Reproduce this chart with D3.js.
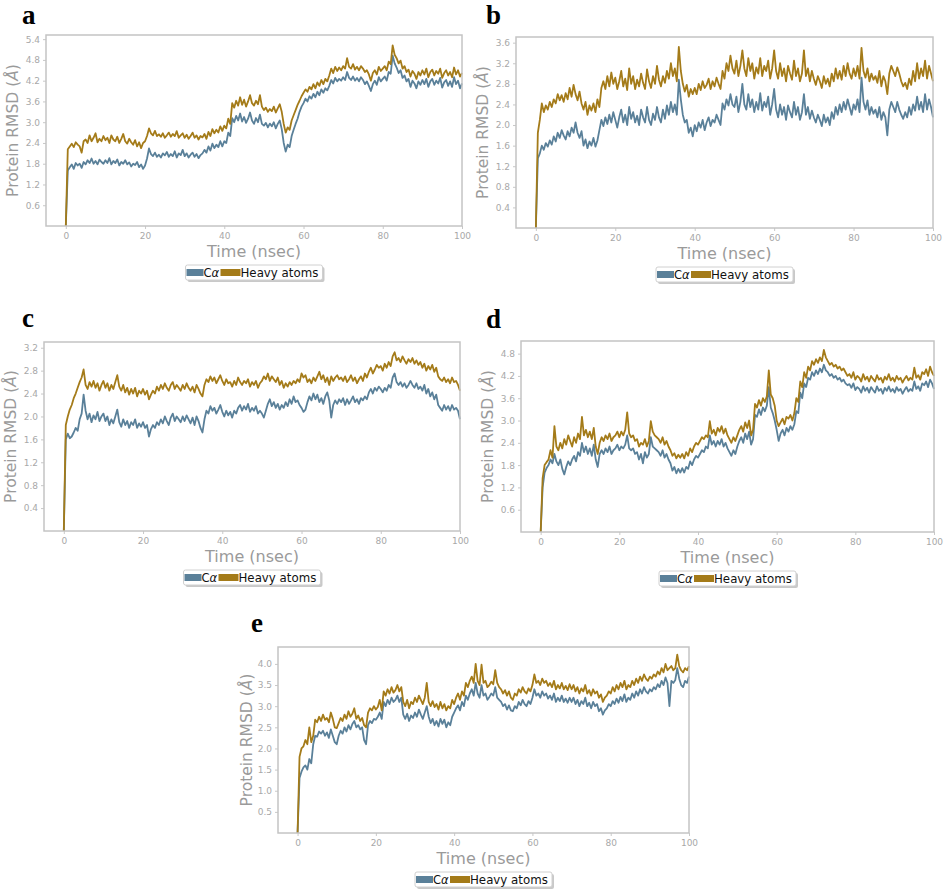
<!DOCTYPE html>
<html>
<head>
<meta charset="utf-8">
<script src="https://cdn.jsdelivr.net/npm/d3@7/dist/d3.min.js"></script>
<style>
  html, body { margin: 0; padding: 0; background: #fff; }
  svg { display: block; }
</style>
</head>
<body>
<svg id="chart" width="945" height="891"></svg>
<script>
// ---------------- DATA ----------------
// time axis: 0 .. 100 ns every 0.5 ns (201 samples)
const timeNs = d3.range(0, 100.001, 0.5);
const xTicks = [0, 20, 40, 60, 80, 100];
const seriesNames = ["Cα", "Heavy atoms"];

// Panel a
const aCa = [
  0, 1.6, 1.7, 1.78, 1.65, 1.82, 1.75, 1.8, 1.68, 1.85, 1.78, 1.9, 1.82, 1.95, 1.8, 1.88, 1.78, 1.92, 1.85, 1.8,
  1.9, 1.82, 1.96, 1.78, 1.88, 1.82, 1.92, 1.75, 1.85, 1.8, 1.9, 1.78, 1.84, 1.72, 1.8, 1.76, 1.85, 1.7, 1.78, 1.65,
  1.75, 1.95, 2.24, 2.08, 2.02, 2.12, 2.0, 2.06, 1.98, 2.1, 2.04, 2.14, 2.0, 2.08, 2.02, 2.16, 1.98, 2.1, 2.05, 2.2,
  2.02, 2.1, 1.98, 2.06, 2.12, 2.0, 2.08, 1.96, 2.05, 2.1, 2.2, 2.12, 2.3, 2.18, 2.38, 2.25, 2.35, 2.28, 2.45, 2.3,
  2.45, 2.4, 2.7, 2.6, 3.12, 3.0, 3.18, 3.05, 3.25, 3.02, 3.15, 2.98, 3.1, 3.28, 3.05, 2.95, 3.12, 3.0, 3.22, 2.95,
  2.9, 2.98, 2.85, 2.96, 2.88, 3.0, 2.82, 2.95, 3.05, 2.8, 2.4, 2.15, 2.35, 2.28, 2.6, 2.78, 2.95, 3.1, 3.3, 3.45,
  3.55, 3.68, 3.6, 3.75, 3.68, 3.82, 3.72, 3.88, 3.78, 3.95, 3.85, 3.98, 3.92, 4.05, 4.22, 4.12, 4.28, 4.18, 4.25, 4.2,
  4.3, 4.22, 4.45, 4.28, 4.22, 4.32, 4.2, 4.28, 4.18, 4.3, 4.22, 4.1, 4.18, 4.05, 3.9, 4.1, 4.2, 4.08, 4.3, 4.18,
  4.25, 4.32, 4.2, 4.45, 4.4, 4.92, 4.7, 4.58, 4.42, 4.5, 4.28, 4.35, 4.18, 4.25, 4.02, 4.2, 4.12, 3.98, 4.18, 4.08,
  4.22, 4.1, 4.25, 4.02, 4.18, 4.25, 4.08, 4.2, 4.12, 4.28, 4.0, 4.15, 4.22, 4.05, 4.18, 4.02, 4.3, 4.1, 4.2, 3.98,
  4.12
];
const aHeavy = [
  0, 2.22, 2.3, 2.38, 2.28, 2.42, 2.35, 2.3, 2.12, 2.45, 2.5, 2.4, 2.62, 2.45, 2.55, 2.68, 2.42, 2.52, 2.45, 2.6,
  2.48, 2.55, 2.4, 2.62, 2.5, 2.45, 2.58, 2.4, 2.52, 2.66, 2.45, 2.38, 2.52, 2.42, 2.35, 2.48, 2.3, 2.42, 2.25, 2.4,
  2.45, 2.6, 2.82, 2.68, 2.62, 2.75, 2.6, 2.65, 2.58, 2.68, 2.55, 2.62, 2.7, 2.58, 2.66, 2.6, 2.74, 2.55, 2.62, 2.68,
  2.55, 2.64, 2.52, 2.6, 2.7, 2.55, 2.62, 2.5, 2.6, 2.56, 2.66, 2.52, 2.72, 2.6, 2.8, 2.68, 2.78, 2.7, 2.88, 2.75,
  2.9, 2.82, 3.1, 2.95, 3.55, 3.42, 3.62, 3.48, 3.72, 3.5, 3.65, 3.45, 3.6, 3.78, 3.55, 3.48, 3.62, 3.52, 3.78, 3.45,
  3.35, 3.42, 3.3, 3.38, 3.32, 3.45, 3.28, 3.4, 3.52, 3.3, 2.95, 2.7, 2.85, 2.78, 3.05, 3.2, 3.35, 3.5, 3.62, 3.75,
  3.85, 3.95, 3.88, 4.02, 3.95, 4.1, 3.98, 4.15, 4.05, 4.22, 4.1, 4.25, 4.18, 4.35, 4.55, 4.42, 4.6, 4.48, 4.58, 4.5,
  4.62, 4.55, 4.85, 4.6, 4.55, 4.68, 4.52, 4.6, 4.5, 4.62, 4.55, 4.45, 4.5, 4.38, 4.2, 4.42, 4.5, 4.38, 4.6, 4.48,
  4.55, 4.62, 4.5, 4.75, 4.68, 5.22, 4.95, 4.85, 4.7, 4.78, 4.55, 4.62, 4.45, 4.52, 4.32, 4.48, 4.4, 4.25, 4.45, 4.35,
  4.5, 4.38, 4.55, 4.3, 4.45, 4.52, 4.35, 4.48, 4.4, 4.55, 4.28, 4.42, 4.5, 4.35, 4.45, 4.3, 4.58, 4.38, 4.5, 4.32,
  4.42
];

// Panel b
const bCa = [
  0, 1.35, 1.45, 1.6, 1.52, 1.65, 1.58, 1.7, 1.62, 1.78, 1.68, 1.85, 1.75, 1.9, 1.8, 1.72, 1.88, 1.78, 1.95, 1.85,
  2.05, 1.85, 1.75, 1.88, 1.6, 1.72, 1.55, 1.68, 1.6, 1.75, 1.58, 1.7, 1.9, 2.1, 1.98, 2.15, 2.02, 2.2, 2.05, 2.25,
  2.1, 1.95, 2.15, 2.3, 2.05, 2.2, 2.0, 2.35, 2.12, 2.25, 2.05, 2.18, 2.0, 2.3, 2.15, 2.05, 2.35, 2.1, 2.0, 2.22,
  2.1, 2.35, 2.15, 2.05, 2.3, 2.12, 2.38, 2.2, 2.45, 2.25, 2.4, 2.2, 2.88, 2.5, 2.2, 2.05, 2.1, 1.85, 1.95, 1.78,
  2.0, 1.88, 2.05, 1.95, 2.1, 1.9, 2.05, 2.15, 1.98, 2.1, 2.05, 2.2, 2.1, 2.0, 2.42, 2.3, 2.5, 2.38, 2.6, 2.4,
  2.35, 2.55, 2.25, 2.45, 2.8, 2.4, 2.3, 2.6, 2.35, 2.5, 2.25, 2.45, 2.3, 2.62, 2.28, 2.45, 2.35, 2.55, 2.2, 2.4,
  2.7, 2.3, 2.15, 2.4, 2.2, 2.35, 2.1, 2.38, 2.25, 2.15, 2.45, 2.2, 2.35, 2.1, 2.25, 2.6, 2.2, 2.35, 2.12, 2.28,
  2.15, 2.05, 2.2, 2.1, 1.98, 2.2, 2.05, 2.15, 2.0, 2.25, 2.12, 2.35, 2.2, 2.4, 2.25, 2.45, 2.3, 2.5, 2.35, 2.2,
  2.4, 2.3, 2.5, 2.25, 2.92, 2.45, 2.3, 2.48, 2.2, 2.35, 2.22, 2.3, 2.15, 2.35, 2.1, 2.25, 2.15, 1.8, 2.3, 2.45,
  2.35, 2.25, 2.45, 2.3, 2.2, 2.12, 2.25, 2.15, 2.35, 2.2, 2.4, 2.28, 2.55, 2.3, 2.45, 2.25, 2.6, 2.3, 2.5, 2.35,
  2.15
];
const bHeavy = [
  0, 1.85, 2.1, 2.42, 2.25, 2.38, 2.3, 2.45, 2.35, 2.5, 2.42, 2.6, 2.48, 2.58, 2.45, 2.62, 2.5, 2.72, 2.55, 2.78,
  2.6, 2.48, 2.65, 2.42, 2.3, 2.45, 2.2, 2.38, 2.28, 2.42, 2.25, 2.5, 2.35, 2.72, 2.85, 2.7, 2.95, 2.75, 3.02, 2.8,
  2.92, 2.7, 2.85, 3.05, 2.75, 2.9, 2.68, 3.1, 2.8, 2.95, 2.7, 2.88, 2.75, 3.0, 2.82, 2.7, 3.08, 2.85, 2.72, 2.95,
  2.8, 3.15, 2.88, 2.75, 2.95, 2.82, 3.05, 2.9, 3.2, 2.95, 3.1, 2.85, 3.52, 3.05, 2.8, 2.65, 2.78, 2.55, 2.7, 2.6,
  2.72, 2.6, 2.8, 2.68, 2.85, 2.72, 2.78, 2.9, 2.7, 2.85, 2.75, 2.92, 2.8, 2.7, 3.05, 2.9, 3.2, 3.05, 3.35, 3.1,
  3.0, 3.25, 2.95, 3.15, 3.45, 3.1, 2.95, 3.3, 3.05, 3.2, 2.9, 3.12, 3.0, 3.3, 2.95, 3.15, 3.05, 3.25, 2.9, 3.1,
  3.45, 3.05, 2.9, 3.2, 2.95, 3.1, 2.85, 3.15, 3.0, 2.88, 3.25, 2.95, 3.1, 2.85, 3.0, 3.45, 2.95, 3.1, 2.85, 3.05,
  2.9, 2.78, 2.95, 2.85, 2.72, 2.95, 2.8, 2.9, 2.75, 3.0, 2.85, 3.1, 2.9, 3.05, 2.88, 3.15, 2.95, 3.2, 3.0, 2.9,
  3.1, 2.95, 3.15, 2.9, 3.5, 3.05, 2.92, 3.1, 2.85, 3.0, 2.88, 2.95, 2.82, 3.05, 2.75, 2.95, 2.85, 2.6, 3.0, 3.15,
  3.05, 2.95, 3.12, 3.0, 2.85, 2.75, 2.82, 2.7, 2.9, 2.78, 3.05, 2.85, 3.2, 2.9, 3.1, 2.95, 3.25, 2.9, 3.15, 3.0,
  2.85
];

// Panel c
const cCa = [
  0, 1.6, 1.7, 1.62, 1.65, 1.72, 1.8, 1.75, 1.95, 2.05, 2.38, 2.1, 1.95, 2.05, 1.9, 2.02, 1.95, 2.08, 1.92, 2.0,
  2.05, 1.92, 2.0, 1.85, 1.95, 1.88, 2.0, 2.12, 1.9, 1.82, 1.95, 1.85, 1.92, 1.8, 1.9, 1.85, 1.95, 1.8, 1.88, 1.82,
  1.9, 1.8, 1.85, 1.65, 1.78, 1.85, 1.8, 1.9, 1.85, 1.95, 1.88, 2.0, 1.92, 1.85, 1.98, 2.05, 1.92, 2.0, 1.95, 1.9,
  2.0, 1.92, 2.02, 1.95, 1.88, 1.98, 1.85, 2.0, 1.92, 1.8, 1.72, 1.95, 2.1, 2.05, 2.18, 2.1, 2.15, 2.05, 2.12, 2.2,
  2.08, 2.0, 2.1, 2.02, 2.08, 1.98, 2.1, 2.05, 2.15, 2.2, 2.1, 2.18, 2.12, 2.22, 2.08, 2.15, 2.1, 2.18, 2.05, 2.1,
  2.05, 1.98, 2.1, 2.22, 2.3, 2.18, 2.25, 2.15, 2.22, 2.12, 2.2, 2.15, 2.25, 2.18, 2.3, 2.22, 2.35, 2.25, 2.28, 2.2,
  2.15, 2.08, 2.12, 2.25, 2.35, 2.28, 2.4, 2.3, 2.38, 2.25, 2.32, 2.22, 2.35, 2.42, 2.28, 1.98, 2.2, 2.28, 2.22, 2.3,
  2.25, 2.32, 2.2, 2.3, 2.22, 2.28, 2.35, 2.25, 2.3, 2.22, 2.32, 2.28, 2.35, 2.3, 2.42, 2.48, 2.4, 2.5, 2.45, 2.52,
  2.48, 2.42, 2.5, 2.45, 2.55, 2.5, 2.68, 2.75, 2.6, 2.55, 2.6, 2.52, 2.58, 2.5, 2.55, 2.62, 2.55, 2.5, 2.58, 2.48,
  2.52, 2.45, 2.55, 2.4, 2.48, 2.35, 2.42, 2.3, 2.38, 2.2, 2.15, 2.1, 2.2, 2.12, 2.18, 2.1, 2.2, 2.12, 2.15, 2.1,
  1.95
];
const cHeavy = [
  0, 1.85, 2.0, 2.12, 2.2, 2.32, 2.4, 2.5, 2.6, 2.68, 2.82, 2.55, 2.48, 2.6, 2.52, 2.62, 2.5, 2.58, 2.45, 2.55,
  2.62, 2.5, 2.58, 2.45, 2.55, 2.48, 2.6, 2.72, 2.52, 2.45, 2.55, 2.42, 2.5, 2.38, 2.48, 2.4, 2.5, 2.35, 2.45, 2.4,
  2.48, 2.38, 2.45, 2.3, 2.38, 2.45, 2.4, 2.52, 2.45, 2.55, 2.48, 2.58, 2.5, 2.45, 2.55, 2.6, 2.48, 2.55, 2.5, 2.45,
  2.55, 2.48, 2.58, 2.5, 2.45, 2.52, 2.42, 2.55, 2.48, 2.4, 2.35, 2.55, 2.65, 2.6, 2.7, 2.62, 2.68, 2.58, 2.65, 2.72,
  2.62, 2.55, 2.65, 2.58, 2.6, 2.52, 2.62, 2.55, 2.68, 2.6, 2.55, 2.62, 2.58, 2.65, 2.52, 2.6, 2.55, 2.62, 2.5, 2.58,
  2.62, 2.7, 2.65, 2.75, 2.62, 2.7, 2.65, 2.6, 2.68, 2.55, 2.62, 2.5, 2.58, 2.52, 2.6, 2.55, 2.62, 2.58, 2.65, 2.6,
  2.75, 2.68, 2.72, 2.6, 2.65, 2.58, 2.68, 2.62, 2.7, 2.78, 2.65, 2.72, 2.6, 2.68, 2.55, 2.7, 2.62, 2.68, 2.72, 2.65,
  2.68, 2.62, 2.7, 2.6, 2.65, 2.72, 2.62, 2.68, 2.58, 2.65, 2.7, 2.62, 2.75, 2.68, 2.78, 2.85, 2.75, 2.82, 2.9, 2.85,
  2.88, 2.8, 2.92, 2.85, 2.95, 2.88, 3.05, 3.12, 2.98, 3.02, 2.95, 3.05, 2.98, 2.92, 3.0, 2.95, 3.02, 2.92, 2.98, 2.9,
  2.95, 2.85, 2.92, 2.8, 2.88, 2.82, 2.9, 2.78, 2.85, 2.7, 2.65, 2.62, 2.68, 2.6, 2.65, 2.58, 2.68, 2.6, 2.62, 2.55,
  2.45
];

// Panel d
const dCa = [
  0, 1.2, 1.6, 1.72, 1.8, 1.95, 1.85, 2.1, 1.9, 1.8, 1.95, 1.7, 1.55, 1.75, 1.9, 1.8, 1.95, 2.05, 1.9, 2.15,
  2.05, 2.4, 2.15, 2.3, 2.1, 2.25, 2.05, 2.35, 1.95, 1.75, 2.1, 2.2, 2.1, 2.25, 2.15, 2.3, 2.1, 2.2, 2.25, 2.35,
  2.2, 2.3, 2.25, 2.35, 2.6, 2.25, 2.2, 2.25, 2.1, 2.15, 1.95, 2.1, 1.85, 2.15, 2.0, 2.1, 2.55, 2.3, 2.25, 2.2,
  2.15, 2.05, 2.2, 2.0, 2.1, 1.95, 1.85, 1.65, 1.75, 1.58, 1.7, 1.6, 1.72, 1.6, 1.75, 1.7, 1.9, 1.8, 1.95, 2.05,
  2.0, 2.1, 2.2, 2.15, 2.3, 2.25, 2.6, 2.35, 2.45, 2.3, 2.45, 2.35, 2.5, 2.3, 2.4, 2.25, 2.15, 2.05, 2.2, 2.1,
  2.3, 2.45, 2.55, 2.4, 2.65, 2.5, 2.7, 2.35, 2.5, 3.15, 3.1, 3.3, 3.15, 3.35, 3.25, 3.4, 3.9, 3.35, 3.2, 3.0,
  2.75, 2.45, 2.65, 2.75, 2.6, 2.8, 2.7, 2.85, 2.75, 2.9, 3.25, 3.2, 3.75, 3.6, 4.0, 3.9, 4.15, 4.1, 4.3, 4.2,
  4.35, 4.25, 4.4, 4.3, 4.5, 4.35, 4.3, 4.2, 4.25, 4.15, 4.2, 4.1, 4.15, 4.05, 4.1, 4.0, 3.95, 3.98, 3.88, 4.0,
  3.82, 3.9, 3.85, 3.75, 3.92, 3.8, 3.88, 3.75, 3.9, 3.82, 3.75, 3.92, 3.8, 3.85, 3.72, 3.88, 3.8, 3.92, 3.78, 3.85,
  3.75, 3.9, 3.8, 3.85, 3.72, 3.82, 3.9, 3.78, 3.85, 3.8, 4.05, 3.85, 3.92, 3.8, 4.0, 3.95, 4.05, 3.9, 4.1, 4.0,
  3.85
];
const dHeavy = [
  0, 1.45, 1.8, 1.88, 1.95, 2.2, 2.0, 2.85, 2.3, 2.2, 2.4, 2.25, 2.5, 2.35, 2.6, 2.45, 2.3, 2.55, 2.4, 2.65,
  2.5, 3.1, 2.6, 2.75, 2.55, 2.7, 2.5, 2.8, 2.3, 2.1, 2.4, 2.55, 2.45, 2.6, 2.5, 2.65, 2.45, 2.55, 2.6, 2.7,
  2.55, 2.7, 2.6, 2.75, 3.22, 2.65, 2.55, 2.6, 2.45, 2.5, 2.3, 2.4, 2.35, 2.5, 2.3, 2.45, 2.98, 2.7, 2.6, 2.55,
  2.5, 2.4, 2.55, 2.35, 2.45, 2.3, 2.2, 2.05, 2.12, 1.98, 2.08, 2.0, 2.1, 1.98, 2.15, 2.05, 2.25, 2.15, 2.3, 2.4,
  2.35, 2.45, 2.55, 2.5, 2.6, 2.55, 2.98, 2.65, 2.75, 2.6, 2.8, 2.7, 2.85, 2.65, 2.78, 2.6, 2.5, 2.4, 2.55, 2.45,
  2.6, 2.75, 2.85, 2.7, 2.95, 2.8, 3.0, 2.6, 2.75, 3.45, 3.35, 3.55, 3.4, 3.6, 3.5, 3.65, 4.35, 3.7, 3.6, 3.4,
  3.0, 2.85, 2.95, 3.05, 2.9, 3.1, 3.05, 3.15, 3.0, 3.2, 3.6, 3.5, 4.05, 3.9, 4.3, 4.15, 4.45, 4.35, 4.6, 4.5,
  4.65, 4.55, 4.7, 4.6, 4.9, 4.7, 4.6, 4.5, 4.55, 4.45, 4.5, 4.4, 4.45, 4.35, 4.4, 4.3, 4.2, 4.25, 4.15, 4.3,
  4.1, 4.2, 4.15, 4.05, 4.25, 4.1, 4.18, 4.05, 4.2, 4.12, 4.05, 4.22, 4.1, 4.15, 4.02, 4.18, 4.1, 4.25, 4.08, 4.15,
  4.05, 4.2, 4.1, 4.15, 4.02, 4.12, 4.2, 4.08, 4.15, 4.1, 4.42, 4.15, 4.22, 4.1, 4.3, 4.25, 4.38, 4.2, 4.45, 4.3,
  4.2
];

// Panel e
const eCa = [
  0, 1.3, 1.45, 1.55, 1.6, 1.5, 1.75, 1.65, 2.1, 2.3, 2.28, 2.4, 2.35, 2.42, 2.3, 2.38, 2.25, 2.45, 2.3, 2.15,
  2.1, 2.3, 2.42, 2.35, 2.5, 2.4, 2.55, 2.45, 2.58, 2.65, 2.5, 2.55, 2.45, 2.5, 2.2, 2.1, 2.55, 2.65, 2.6, 2.7,
  2.68, 2.75, 2.85, 2.7, 3.1, 3.0, 3.15, 3.05, 3.2, 3.1, 3.15, 3.25, 3.1, 3.2, 2.8, 2.7, 2.82, 2.65, 2.78, 2.72,
  2.85, 2.75, 2.92, 2.8, 2.7, 2.85, 3.0, 2.75, 2.6, 2.7, 2.55, 2.65, 2.52, 2.7, 2.58, 2.68, 2.5, 2.62, 2.55, 2.75,
  2.85, 2.95, 3.02, 2.9, 3.1, 3.0, 3.25, 3.15, 3.3, 3.4, 3.25, 3.55, 3.3, 3.2, 3.5, 3.25, 3.3, 3.15, 3.22, 3.3,
  3.25, 3.45, 3.2, 3.15, 3.1, 3.0, 3.05, 2.92, 3.02, 2.9, 2.88, 3.0, 2.95, 3.1, 3.02, 3.15, 3.05, 3.0, 3.12, 3.05,
  3.2, 3.4, 3.25, 3.3, 3.2, 3.35, 3.25, 3.3, 3.18, 3.25, 3.15, 3.3, 3.1, 3.2, 3.12, 3.25, 3.1, 3.18, 3.08, 3.2,
  3.1, 3.2, 3.05, 3.15, 3.0, 3.12, 3.05, 3.2, 3.0, 3.08, 2.95, 3.1, 3.0, 3.05, 2.88, 2.95, 2.8, 2.9, 2.95, 3.05,
  3.0, 3.12, 3.05, 3.18, 3.08, 3.22, 3.12, 3.28, 3.1, 3.2, 3.15, 3.3, 3.2, 3.35, 3.25, 3.4, 3.3, 3.45, 3.35, 3.3,
  3.4, 3.35, 3.45, 3.4, 3.52, 3.45, 3.6, 3.5, 3.68, 3.55, 3.0, 3.6, 3.55, 3.62, 3.9, 3.65, 3.5, 3.45, 3.6, 3.55,
  3.7
];
const eHeavy = [
  0, 1.8, 2.0, 2.05, 2.2, 2.1, 2.5, 2.15, 2.3, 2.68, 2.62, 2.75, 2.65, 2.8, 2.68, 2.72, 2.62, 2.85, 2.7, 2.5,
  2.48, 2.6, 2.72, 2.65, 2.8, 2.7, 2.88, 2.75, 2.82, 2.95, 2.7, 2.78, 2.65, 2.72, 2.55, 2.5, 2.85, 2.95, 2.9, 3.0,
  2.92, 2.98, 3.15, 2.9, 3.35, 3.25, 3.4, 3.3, 3.45, 3.32, 3.38, 3.5, 3.35, 3.45, 3.1, 3.0, 3.15, 2.95, 3.1, 3.05,
  3.2, 3.1, 3.25, 3.15, 3.05, 3.2, 3.55, 3.1, 3.0, 3.12, 2.98, 3.05, 2.92, 3.1, 2.95, 3.05, 2.9, 3.0, 2.95, 3.15,
  3.05, 3.2, 3.3, 3.15, 3.35, 3.25, 3.55, 3.45, 3.6, 3.7, 3.55, 4.0, 3.6, 3.5, 3.98, 3.55, 3.6, 3.45, 3.5, 3.58,
  3.52, 3.85, 3.55, 3.45, 3.4, 3.3, 3.38, 3.25, 3.35, 3.2, 3.15, 3.3, 3.25, 3.4, 3.32, 3.45, 3.35, 3.3, 3.42, 3.35,
  3.5, 3.75, 3.55, 3.6, 3.5, 3.65, 3.55, 3.6, 3.48, 3.55, 3.45, 3.6, 3.4, 3.5, 3.42, 3.55, 3.4, 3.48, 3.38, 3.52,
  3.4, 3.5, 3.35, 3.45, 3.3, 3.42, 3.35, 3.5, 3.3, 3.38, 3.25, 3.4, 3.3, 3.35, 3.2, 3.28, 3.1, 3.2, 3.25, 3.35,
  3.3, 3.45, 3.35, 3.5, 3.4, 3.55, 3.45, 3.6, 3.4, 3.5, 3.45, 3.6, 3.5, 3.65, 3.55, 3.7, 3.6, 3.75, 3.65, 3.6,
  3.7, 3.65, 3.75, 3.7, 3.82, 3.75, 3.9, 3.8, 4.0, 3.85, 3.9, 3.95, 3.85, 3.9, 4.22, 3.95, 3.85, 3.8, 3.9, 3.85,
  3.95
];

// y tick labels per panel
const aYTicks = ["0.6", "1.2", "1.8", "2.4", "3.0", "3.6", "4.2", "4.8", "5.4"];
const bYTicks = ["0.4", "0.8", "1.2", "1.6", "2.0", "2.4", "2.8", "3.2", "3.6"];
const cYTicks = ["0.4", "0.8", "1.2", "1.6", "2.0", "2.4", "2.8", "3.2"];
const dYTicks = ["0.6", "1.2", "1.8", "2.4", "3.0", "3.6", "4.2", "4.8"];
const eYTicks = ["0.5", "1.0", "1.5", "2.0", "2.5", "3.0", "3.5", "4.0"];

// ---------------- LAYOUT ----------------
const COLORS = { ca: "#5a8099", heavy: "#a47b19" };
const panels = [
  { letter: "a", ca: aCa, heavy: aHeavy, ticks: aYTicks, yMax: 5.52, frame: [46, 35, 462, 226], letterPos: [22, 24], ylabX: 13 },
  { letter: "b", ca: bCa, heavy: bHeavy, ticks: bYTicks, yMax: 3.71, frame: [516, 37, 933, 228], letterPos: [486, 24], ylabX: 483 },
  { letter: "c", ca: cCa, heavy: cHeavy, ticks: cYTicks, yMax: 3.30, frame: [44, 342, 460, 531], letterPos: [22, 327], ylabX: 11 },
  { letter: "d", ca: dCa, heavy: dHeavy, ticks: dYTicks, yMax: 5.14, frame: [521, 341, 934, 532], letterPos: [486, 328], ylabX: 488 },
  { letter: "e", ca: eCa, heavy: eHeavy, ticks: eYTicks, yMax: 4.40, frame: [278, 647, 689, 833], letterPos: [251, 632], ylabX: 247 }
];

const svg = d3.select("#chart");

panels.forEach(p => {
  const [l, t, r, b] = p.frame;
  const x = d3.scaleLinear().domain([-5, 100]).range([l, r]);
  const y = d3.scaleLinear().domain([0, p.yMax]).range([b, t]);
  const g = svg.append("g");

  // panel letter
  g.append("text")
    .attr("x", p.letterPos[0]).attr("y", p.letterPos[1])
    .attr("font-family", "'Liberation Serif', 'Times New Roman', serif")
    .attr("font-weight", "bold").attr("font-size", 27)
    .attr("fill", "#000").text(p.letter);

  // y axis
  const yAxis = d3.axisLeft(y)
    .tickValues(p.ticks.map(Number))
    .tickFormat((d, i) => p.ticks[i])
    .tickSize(3).tickPadding(3);
  const gy = g.append("g").attr("transform", `translate(${l},0)`).call(yAxis);
  gy.select(".domain").remove();
  gy.selectAll(".tick line").attr("stroke", "#c8c8c8");
  gy.selectAll(".tick text").attr("fill", "#a8a8a8")
    .attr("font-family", "'DejaVu Sans', sans-serif").attr("font-size", 9);

  // x axis
  const xAxis = d3.axisBottom(x).tickValues(xTicks).tickFormat(d3.format("d"))
    .tickSize(3).tickPadding(4);
  const gx = g.append("g").attr("transform", `translate(0,${b})`).call(xAxis);
  gx.select(".domain").remove();
  gx.selectAll(".tick line").attr("stroke", "#c8c8c8");
  gx.selectAll(".tick text").attr("fill", "#a8a8a8")
    .attr("font-family", "'DejaVu Sans', sans-serif").attr("font-size", 9);

  // lines
  const line = d3.line().x((d, i) => x(timeNs[i])).y(d => y(d));
  g.append("path").datum(p.ca).attr("d", line)
    .attr("fill", "none").attr("stroke", COLORS.ca).attr("stroke-width", 1.8)
    .attr("stroke-linejoin", "round");
  g.append("path").datum(p.heavy).attr("d", line)
    .attr("fill", "none").attr("stroke", COLORS.heavy).attr("stroke-width", 1.8)
    .attr("stroke-linejoin", "round");

  // frame
  g.append("rect").attr("x", l).attr("y", t).attr("width", r - l).attr("height", b - t)
    .attr("fill", "none").attr("stroke", "#c4c4c4").attr("stroke-width", 1.5);

  // y label
  const cy = (t + b) / 2;
  const yl = g.append("text")
    .attr("transform", `translate(${p.ylabX},${cy}) rotate(-90)`)
    .attr("text-anchor", "middle").attr("dominant-baseline", "central")
    .attr("font-family", "'DejaVu Sans', sans-serif").attr("font-size", 15.5)
    .attr("fill", "#9a9a9a");
  yl.append("tspan").text("Protein RMSD (");
  yl.append("tspan").attr("font-style", "italic").text("Å");
  yl.append("tspan").text(")");

  // x label
  const cx = (l + r) / 2;
  g.append("text").attr("x", cx).attr("y", b + 31)
    .attr("text-anchor", "middle")
    .attr("font-family", "'DejaVu Sans', sans-serif").attr("font-size", 16)
    .attr("fill", "#9a9a9a").text("Time (nsec)");

  // legend
  const lw = 137, lh = 15;
  const lx = cx - lw / 2, ly = b + 39;
  const lg = g.append("g").attr("transform", `translate(${lx},${ly})`);
  lg.append("rect").attr("x", 2).attr("y", 2).attr("width", lw).attr("height", lh)
    .attr("rx", 2).attr("fill", "#c9c9c9");
  lg.append("rect").attr("x", 0).attr("y", 0).attr("width", lw).attr("height", lh)
    .attr("rx", 2).attr("fill", "#fff").attr("stroke", "#d0d0d0").attr("stroke-width", 1);
  lg.append("rect").attr("x", 1).attr("y", 4).attr("width", 17).attr("height", 7).attr("fill", COLORS.ca);
  const t1 = lg.append("text").attr("x", 18).attr("y", 12)
    .attr("font-family", "'DejaVu Sans', sans-serif").attr("font-size", 11.5).attr("fill", "#111");
  t1.append("tspan").text("C");
  t1.append("tspan").attr("font-style", "italic").text("α");
  lg.append("rect").attr("x", 35).attr("y", 4).attr("width", 20).attr("height", 7).attr("fill", COLORS.heavy);
  lg.append("text").attr("x", 55).attr("y", 12)
    .attr("font-family", "'DejaVu Sans', sans-serif").attr("font-size", 11.8).attr("fill", "#111")
    .text(seriesNames[1]);
});
</script>
</body>
</html>
